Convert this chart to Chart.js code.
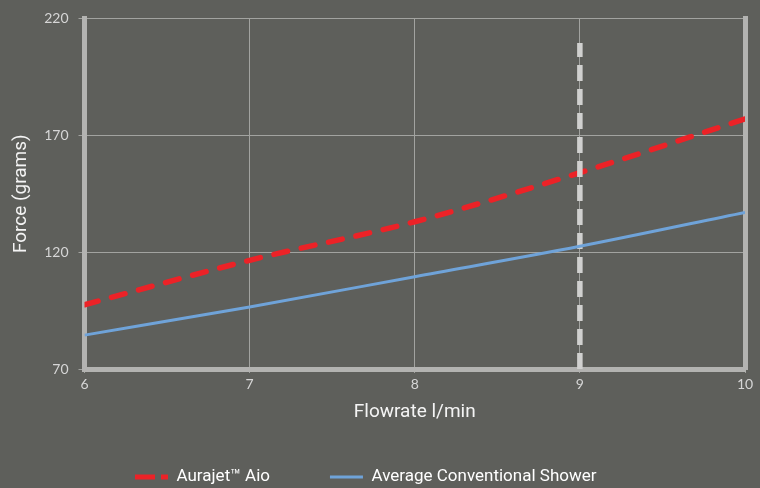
<!DOCTYPE html>
<html><head><meta charset="utf-8">
<script src="https://cdn.jsdelivr.net/npm/chart.js@4"></script>
<style>
html,body{margin:0;padding:0;background:#5e5f5b;}
#wrap{width:760px;height:488px;position:relative;}
</style></head><body>
<div id="wrap"><canvas id="c"></canvas></div>
<script>
const flowrate = [6, 7, 8, 9, 10];
const aurajet = [97.5, 116.5, 133, 154, 177];
const conventional = [84.5, 96.5, 109.5, 122.5, 137];
const markerFlowrate = [9, 9];
const markerForce = [70, 209.5];
const seriesNames = ['Aurajet™ Aio', 'Average Conventional Shower'];
const xTitle = 'Flowrate l/min';
const yTitle = 'Force (grams)';

const RED = '#ec2227';
const BLUE = '#6fa3d9';
const MARK = '#d0d0cf';
const BG = '#5e5f5b';
const GRID = '#a2a3a0';
const BORDER = '#b3b3b1';
const TICK = '#d6d6d6';
const TITLE = '#f4f4f4';

const toPts = (xs, ys) => xs.map((x, i) => ({x: x, y: ys[i]}));

const bgPlugin = {
  id: 'bg',
  beforeDraw(chart) {
    const ctx = chart.ctx;
    ctx.save();
    ctx.fillStyle = BG;
    ctx.fillRect(0, 0, chart.width, chart.height);
    ctx.restore();
  }
};
const legendPlace = {
  id: 'legendPlace',
  afterLayout(chart) {
    const lg = chart.legend;
    if (!lg) return;
    const p = lg.options.labels.padding;
    lg.left = 135 - p;
    lg.top = 477 - p - 8.5;
  }
};

new Chart(document.getElementById('c'), {
  type: 'line',
  data: {
    datasets: [
      {
        label: seriesNames[0],
        data: toPts(flowrate, aurajet),
        borderColor: RED,
        borderWidth: 5.5,
        borderDash: [14, 14],
        borderCapStyle: 'round',
        pointRadius: 0,
        cubicInterpolationMode: 'monotone',
        order: 2
      },
      {
        label: seriesNames[1],
        data: toPts(flowrate, conventional),
        borderColor: BLUE,
        borderWidth: 3,
        pointRadius: 0,
        cubicInterpolationMode: 'monotone',
        order: 0
      },
      {
        label: 'marker',
        data: toPts(markerFlowrate, markerForce),
        borderColor: MARK,
        borderWidth: 5.5,
        borderDash: [16, 8],
        borderCapStyle: 'butt',
        pointRadius: 0,
        tension: 0,
        order: 1
      }
    ]
  },
  options: {
    responsive: true,
    maintainAspectRatio: false,
    animation: false,
    layout: {padding: {top: 15, right: 15, left: 0, bottom: 0}},
    plugins: {
      tooltip: {enabled: false},
      legend: {
        position: 'bottom',
        align: 'start',
        maxHeight: 40,
        labels: {
          usePointStyle: true,
          pointStyleWidth: 33,
          padding: 60,
          color: '#ffffff',
          font: {family: 'Roboto', size: 17},
          generateLabels: () => [
            {text: seriesNames[0], fillStyle: 'rgba(0,0,0,0)', strokeStyle: RED, lineWidth: 5,
             lineDash: [20, 6], lineCap: 'butt', pointStyle: 'line', fontColor: '#ffffff', datasetIndex: 0, hidden: false},
            {text: seriesNames[1], fillStyle: 'rgba(0,0,0,0)', strokeStyle: BLUE, lineWidth: 3,
             lineDash: [], lineCap: 'butt', pointStyle: 'line', fontColor: '#ffffff', datasetIndex: 1, hidden: false}
          ]
        }
      }
    },
    scales: {
      x: {
        type: 'linear',
        min: 6, max: 10,
        ticks: {stepSize: 1, color: TICK, font: {family: 'Lato', size: 14}, padding: 3},
        grid: {color: GRID, lineWidth: 1, tickLength: 4},
        border: {display: true, color: BORDER, width: 5},
        title: {display: true, text: xTitle, color: TITLE, font: {family: 'Roboto', size: 19}, padding: {top: 0, bottom: 24}},
        afterFit(s) { s.height = 79; }
      },
      y: {
        type: 'linear',
        min: 70, max: 220,
        ticks: {stepSize: 50, color: TICK, font: {family: 'Lato', size: 14}, padding: 10},
        grid: {color: GRID, lineWidth: 1, tickLength: 6},
        border: {display: true, color: BORDER, width: 5},
        title: {display: true, text: yTitle, color: TITLE, font: {family: 'Roboto', size: 19}, padding: {top: 10, bottom: 0}},
        afterFit(s) { s.width = 84.5; }
      },
      y2: {
        type: 'linear',
        position: 'right',
        min: 70, max: 220,
        ticks: {display: false, stepSize: 50},
        grid: {display: false, drawTicks: false},
        border: {display: true, color: BORDER, width: 5},
        afterFit(s) { s.width = 0; }
      }
    }
  },
  plugins: [bgPlugin, legendPlace]
});
</script>
</body></html>
